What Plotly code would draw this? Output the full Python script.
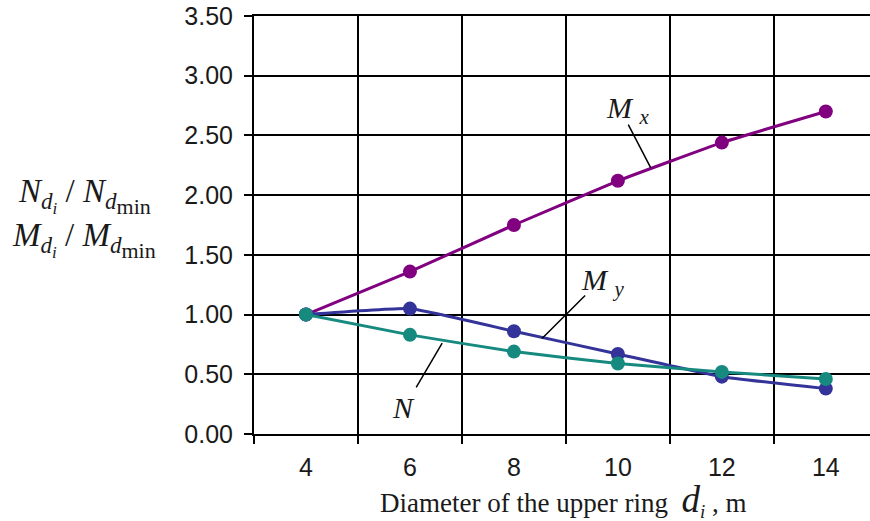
import plotly.graph_objects as go

# Data
diam = [4, 6, 8, 10, 12, 14]
Mx = [1.00, 1.36, 1.75, 2.12, 2.44, 2.70]
My = [1.00, 1.05, 0.86, 0.67, 0.48, 0.38]
N = [1.00, 0.83, 0.69, 0.59, 0.52, 0.46]
y_ticks = [0, 0.5, 1.0, 1.5, 2.0, 2.5, 3.0, 3.5]
x_ticks = [4, 6, 8, 10, 12, 14]

C_MX = "#800080"
C_MY = "#333399"
C_N = "#178a80"

fig = go.Figure()
for vals, col in [(Mx, C_MX), (My, C_MY), (N, C_N)]:
    fig.add_trace(go.Scatter(
        x=diam, y=vals, mode="lines+markers",
        line=dict(color=col, width=3, shape="spline", smoothing=0.3),
        marker=dict(color=col, size=14),
        showlegend=False, cliponaxis=False))

tick_font = dict(family="Liberation Sans, Arial", size=25, color="#1a1a1a")
serif = "Liberation Serif, Times New Roman"

fig.update_layout(
    width=870, height=521,
    margin=dict(l=254, r=0, t=16, b=87),
    plot_bgcolor="white", paper_bgcolor="white",
    xaxis=dict(
        range=[3, 14.85], tickvals=x_ticks, ticktext=[str(v) for v in x_ticks],
        ticks="", showgrid=False, zeroline=False,
        showline=True, linecolor="black", linewidth=2, mirror=True,
        tickfont=tick_font, ticklabelstandoff=10,
        minor=dict(tickvals=[3, 5, 7, 9, 11, 13], ticks="outside", ticklen=8,
                   tickwidth=2, tickcolor="black", showgrid=True,
                   gridcolor="black", gridwidth=2),
    ),
    yaxis=dict(
        range=[0, 3.5], tickvals=y_ticks, ticktext=[f"{v:.2f}" for v in y_ticks],
        ticks="outside", ticklen=8, tickwidth=2, tickcolor="black",
        ticklabelstandoff=6,
        showgrid=True, gridcolor="black", gridwidth=2, zeroline=False,
        showline=True, linecolor="black", linewidth=2,
        tickfont=tick_font,
    ),
)

# Curve labels with leader lines
labels = [
    ("<i>M</i> <sub><i>x</i></sub>", 10.2, 2.71, (10.2, 2.59, 10.63, 2.23)),
    ("<i>M</i> <sub><i>y</i></sub>", 9.72, 1.27, (9.37, 1.16, 8.54, 0.80)),
    ("<i>N</i>", 5.88, 0.22, (6.12, 0.39, 6.62, 0.76)),
]
for txt, lx, ly, (x0, y0, x1, y1) in labels:
    fig.add_annotation(x=lx, y=ly, xref="x", yref="y", text=txt, showarrow=False,
                       xanchor="center", yanchor="middle",
                       font=dict(family=serif, size=30, color="#1a1a1a"))
    fig.add_shape(type="line", xref="x", yref="y", x0=x0, y0=y0, x1=x1, y1=y1,
                  line=dict(color="black", width=1.5))

plot_l, plot_r, plot_t, plot_b = 254, 870, 16, 434
def px_to_paper(px, py):
    return (px - plot_l) / (plot_r - plot_l), (plot_b - py) / (plot_b - plot_t)

def sub_title(sym):
    return (f"<i>{sym}</i><sub><i>d</i><sub><span style='font-size:17px'><i>i</i></span></sub></sub>"
            f" / <i>{sym}</i><sub><i>d</i><sub><span style='font-size:22px'>min</span></sub></sub>")

# Y-axis title (two lines)
for sym, (px, py) in [("N", (84, 196)), ("M", (84, 240))]:
    ax, ay = px_to_paper(px, py)
    fig.add_annotation(x=ax, y=ay, xref="paper", yref="paper", showarrow=False,
                       xanchor="center", yanchor="middle", text=sub_title(sym),
                       font=dict(family=serif, size=33, color="#1a1a1a"))

# X-axis title
ax, ay = px_to_paper(563, 500)
fig.add_annotation(
    x=ax, y=ay, xref="paper", yref="paper", showarrow=False,
    xanchor="center", yanchor="middle",
    text="Diameter of the upper ring  <span style='font-size:37px'><i>d</i></span><sub><i>i</i></sub> , m",
    font=dict(family=serif, size=27, color="#1a1a1a"))

fig.write_html("out.html", config={"displayModeBar": False},
               post_script="document.body.style.margin='0';")
